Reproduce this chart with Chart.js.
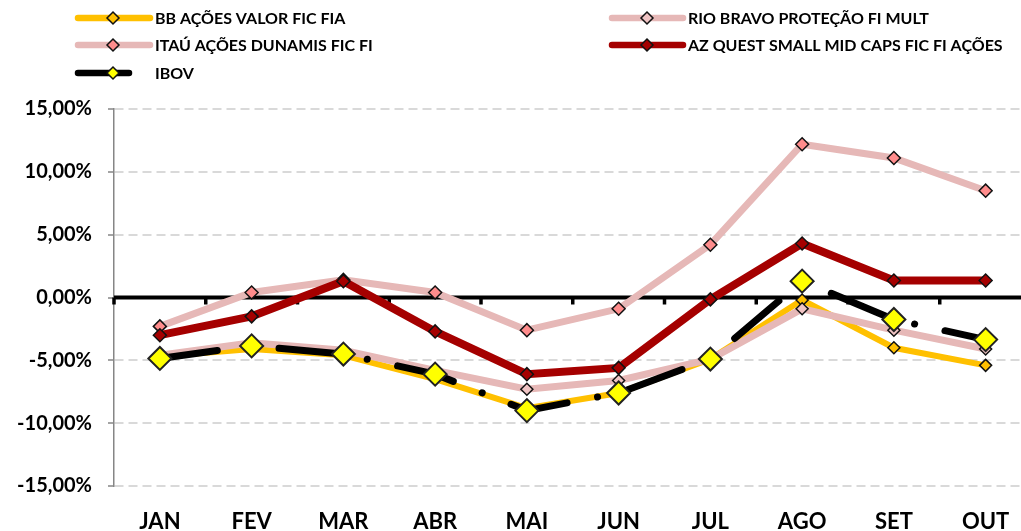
<!DOCTYPE html>
<html>
<head>
<meta charset="utf-8">
<script src="https://cdn.jsdelivr.net/npm/chart.js@4.4.1/dist/chart.umd.min.js"></script>
<style>
    html, body { margin: 0; padding: 0; background: #fff; overflow: hidden; }
    #wrap { position: relative; width: 1045px; height: 531px; }
</style>
</head>
<body>
<div id="wrap"><canvas id="chart" width="1045" height="531"></canvas></div>
<script>
// Monthly returns (%)
const months = ['JAN', 'FEV', 'MAR', 'ABR', 'MAI', 'JUN', 'JUL', 'AGO', 'SET', 'OUT'];
const bbAcoes = [-4.7, -4.1, -4.6, -6.5, -8.8, -7.6, -4.9, -0.2, -4.0, -5.4];
const rioBravo = [-4.6, -3.6, -4.2, -5.8, -7.3, -6.6, -4.9, -0.9, -2.6, -4.1];
const itauDunamis = [-2.3, 0.4, 1.4, 0.4, -2.6, -0.9, 4.2, 12.2, 11.1, 8.5];
const azQuest = [-3.0, -1.5, 1.3, -2.7, -6.1, -5.6, -0.15, 4.3, 1.35, 1.35];
const ibov = [-4.85, -3.85, -4.5, -6.1, -9.0, -7.6, -4.9, 1.3, -1.75, -3.35];
const yTicks = [-15, -10, -5, 0, 5, 10, 15];

const FONT = 'Lato, "Open Sans", sans-serif';

// black axis line at zero with category tick marks
const zeroAxis = {
    id: 'zeroAxis',
    beforeDatasetsDraw(chart) {
        const { ctx, chartArea, scales } = chart;
        const y0 = scales.y.getPixelForValue(0);
        const step = scales.x.getPixelForValue(1) - scales.x.getPixelForValue(0);
        ctx.save();
        ctx.strokeStyle = '#000';
        ctx.lineWidth = 4;
        ctx.beginPath();
        ctx.moveTo(chartArea.left, y0);
        ctx.lineTo(chartArea.right, y0);
        ctx.stroke();
        ctx.lineWidth = 3.5;
        for (let i = 0; i <= months.length; i++) {
            const px = scales.x.getPixelForValue(i) - step / 2;
            ctx.beginPath();
            ctx.moveTo(px, y0);
            ctx.lineTo(px, y0 + 7);
            ctx.stroke();
        }
        ctx.restore();
    }
};

// two-column legend like the spreadsheet one
const sheetLegend = {
    id: 'sheetLegend',
    afterDraw(chart) {
        const ctx = chart.ctx;
        const slots = [
            { x: 78, y: 18, len: 72, tx: 155 },
            { x: 612, y: 18, len: 71, tx: 688 },
            { x: 78, y: 45, len: 72, tx: 155 },
            { x: 612, y: 45, len: 71, tx: 688 },
            { x: 78, y: 73, len: 51, tx: 155 }
        ];
        ctx.save();
        chart.data.datasets.forEach((ds, i) => {
            const s = slots[i];
            ctx.strokeStyle = ds.borderColor;
            ctx.lineWidth = 6.5;
            ctx.lineCap = 'round';
            ctx.setLineDash([]);
            ctx.beginPath();
            ctx.moveTo(s.x, s.y);
            ctx.lineTo(s.x + s.len, s.y);
            ctx.stroke();
            const mx = s.x + 35, r = 6;
            ctx.fillStyle = ds.pointBackgroundColor;
            ctx.strokeStyle = '#111';
            ctx.lineWidth = 1.5;
            ctx.beginPath();
            ctx.moveTo(mx - r, s.y);
            ctx.lineTo(mx, s.y - r);
            ctx.lineTo(mx + r, s.y);
            ctx.lineTo(mx, s.y + r);
            ctx.closePath();
            ctx.fill();
            ctx.stroke();
            ctx.fillStyle = '#000';
            ctx.font = 'bold 16px ' + FONT;
            ctx.textBaseline = 'middle';
            ctx.fillText(ds.label, s.tx, s.y + 1);
        });
        ctx.restore();
    }
};

function series(label, data, color, marker, width, order, radius) {
    return {
        label: label,
        data: data,
        borderColor: color,
        borderWidth: width,
        pointStyle: 'rectRot',
        pointRadius: radius,
        pointBackgroundColor: marker,
        pointBorderColor: '#111',
        pointBorderWidth: 1.5,
        tension: 0,
        fill: false,
        order: order
    };
}

const ibovSet = series('IBOV', ibov, '#000000', '#FFFF00', 7, 1, 11.5);
ibovSet.borderDash = [58, 31, 0.1, 31];
ibovSet.borderCapStyle = 'round';
ibovSet.pointBorderColor = '#222';
ibovSet.pointBorderWidth = 2;

new Chart(document.getElementById('chart'), {
    type: 'line',
    data: {
        labels: months,
        datasets: [
            series('BB AÇÕES VALOR FIC FIA', bbAcoes, '#FFC000', '#FFC000', 6, 5, 6),
            series('RIO BRAVO PROTEÇÃO FI MULT', rioBravo, '#E6B8B7', '#F0C4C4', 7, 4, 6),
            series('ITAÚ AÇÕES DUNAMIS FIC FI', itauDunamis, '#E6B8B7', '#FF8C8C', 7, 3, 6.5),
            series('AZ QUEST SMALL MID CAPS FIC FI AÇÕES', azQuest, '#A50000', '#A50000', 8, 2, 6.5),
            ibovSet
        ]
    },
    options: {
        responsive: false,
        animation: false,
        layout: { padding: { top: 109, right: 8, left: 0, bottom: 0 } },
        plugins: {
            legend: { display: false },
            tooltip: { enabled: false }
        },
        scales: {
            x: {
                offset: true,
                grid: { display: false, drawTicks: false },
                border: { display: false },
                afterFit: function (scale) { scale.height = 45; },
                ticks: {
                    color: '#000',
                    padding: 23,
                    font: { family: FONT, size: 22, weight: 'bold' }
                }
            },
            y: {
                min: -15,
                max: 15,
                afterFit: function (scale) { scale.width = 114; },
                afterBuildTicks: function (scale) {
                    scale.ticks = yTicks.map(v => ({ value: v }));
                },
                border: { display: true, color: '#868686', width: 1.5, dash: [9, 5] },
                grid: {
                    color: function (c) { return c.tick && c.tick.value === 0 ? 'rgba(0,0,0,0)' : '#D9D9D9'; },
                    lineWidth: 2,
                    tickLength: 6,
                    tickColor: '#868686',
                    tickWidth: 1.5,
                    tickBorderDash: []
                },
                ticks: {
                    color: '#000',
                    padding: 16,
                    font: { family: FONT, size: 20, weight: 'bold' },
                    callback: function (value) {
                        return value.toFixed(2).replace('.', ',') + '%';
                    }
                }
            }
        }
    },
    plugins: [zeroAxis, sheetLegend]
});
</script>
</body>
</html>
